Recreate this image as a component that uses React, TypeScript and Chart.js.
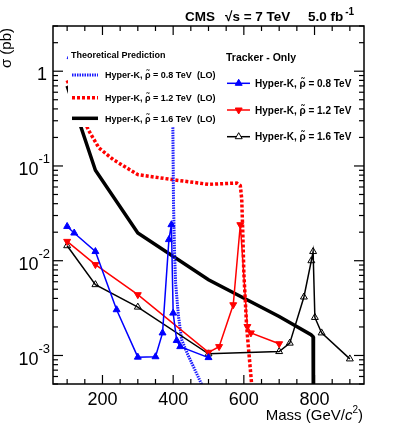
import React, { useEffect, useRef } from "react";
import { Chart, registerables } from "chart.js";

Chart.register(...registerables);

// ---------- data ----------
// Theoretical predictions (LO)
const theoryBlueMass = [100, 200, 300, 395, 399, 401, 404, 407, 415, 424, 440, 466, 480, 490];
const theoryBlueXsec = [1.4, 1.0, 0.8, 0.7, 0.3, 0.04, 0.012, 0.0058, 0.0026, 0.00147, 0.00105, 0.00065, 0.0005, 0.0004];

const theoryRedMass = [100, 160, 190, 230, 300, 400, 500, 580, 590, 594, 597, 600, 608, 622, 630];
const theoryRedXsec = [0.8, 0.24, 0.155, 0.117, 0.081, 0.0716, 0.064, 0.066, 0.062, 0.045, 0.02, 0.0074, 0.002, 0.0005, 0.0002];

const theoryBlackMass = [100, 180, 300, 500, 700, 790, 796, 797];
const theoryBlackXsec = [0.7, 0.09, 0.0196, 0.0063, 0.00258, 0.00166, 0.00158, 0.0001];

// Tracker-only limits
const trkBlueMass = [100, 120, 180, 240, 300, 350, 370, 388, 395, 400, 410, 420, 500];
const trkBlueXsec = [0.023, 0.0196, 0.0125, 0.00304, 0.00096, 0.00097, 0.00173, 0.0167, 0.024, 0.0028, 0.00144, 0.00124, 0.00095];

const trkRedMass = [100, 180, 300, 500, 530, 570, 590, 610, 620, 700];
const trkRedXsec = [0.016, 0.0091, 0.00438, 0.00108, 0.00124, 0.00343, 0.024, 0.00202, 0.00173, 0.00133];

const trkBlackMass = [100, 180, 300, 500, 700, 730, 770, 791, 796, 801, 820, 900];
const trkBlackXsec = [0.0144, 0.00559, 0.00324, 0.00104, 0.0011, 0.00135, 0.00414, 0.01, 0.0125, 0.00252, 0.00173, 0.00092];

// ---------- text / ticks ----------
const xTickLabels = [200, 400, 600, 800];
const yDecadeExponents = [0, -1, -2, -3];
const headerCMS = "CMS";
const headerEnergy = "√s = 7 TeV";
const headerLumi = "5.0 fb";
const headerLumiExp = "-1";
const xTitleParts = ["Mass (GeV/", "c", "2", ")"];
const yTitle = "σ (pb)";
const theoryLegendTitle = "Theoretical Prediction";
const theoryLegendLabels = ["Hyper-K, ρ̃ = 0.8 TeV", "Hyper-K, ρ̃ = 1.2 TeV", "Hyper-K, ρ̃ = 1.6 TeV"];
const theoryLegendSuffix = "(LO)";
const trackerLegendTitle = "Tracker - Only";
const trackerLegendLabels = ["Hyper-K, ρ̃ = 0.8 TeV", "Hyper-K, ρ̃ = 1.2 TeV", "Hyper-K, ρ̃ = 1.6 TeV"];

// ---------- styles ----------
const BLUE = "#0000ff";
const RED = "#ff0000";
const BLACK = "#000000";
const FONT = '"Liberation Sans", Arial, Helvetica, sans-serif';

const toPoints = (m: number[], v: number[]) => m.map((x, i) => ({ x, y: v[i] }));

const theoryStyles = [
  { color: "#1a1aff", width: 3, dash: [1.5, 1] },
  { color: RED, width: 3.5, dash: [3, 2] },
  { color: BLACK, width: 3.5, dash: [] as number[] },
];
const trackerStyles = [
  { color: BLUE, fill: BLUE, rotation: 0 },
  { color: RED, fill: RED, rotation: 180 },
  { color: BLACK, fill: "rgba(255,255,255,0)", rotation: 0 },
];

function drawTriangle(ctx: CanvasRenderingContext2D, x: number, y: number, r: number, rotationDeg: number, fill: string, stroke: string) {
  let rad = (rotationDeg * Math.PI) / 180;
  ctx.beginPath();
  ctx.moveTo(x + Math.sin(rad) * r, y - Math.cos(rad) * r);
  rad += (2 * Math.PI) / 3;
  ctx.lineTo(x + Math.sin(rad) * r, y - Math.cos(rad) * r);
  rad += (2 * Math.PI) / 3;
  ctx.lineTo(x + Math.sin(rad) * r, y - Math.cos(rad) * r);
  ctx.closePath();
  ctx.fillStyle = fill;
  ctx.fill();
  ctx.strokeStyle = stroke;
  ctx.lineWidth = 1;
  ctx.setLineDash([]);
  ctx.stroke();
}

const rootStylePlugin = {
  id: "rootStyle",
  afterDatasetsDraw(chart: any) {
    const { ctx, chartArea: a } = chart;
    const xs = chart.scales.x;
    const ys = chart.scales.y;
    ctx.save();

    // legend background (white, no border)
    ctx.fillStyle = "#ffffff";
    ctx.fillRect(68, 38, 156, 89);

    // frame
    ctx.setLineDash([]);
    ctx.strokeStyle = BLACK;
    ctx.lineWidth = 1.5;
    ctx.strokeRect(a.left, a.top, a.right - a.left, a.bottom - a.top);

    const seg = (x1: number, y1: number, x2: number, y2: number) => {
      ctx.beginPath();
      ctx.moveTo(x1, y1);
      ctx.lineTo(x2, y2);
      ctx.stroke();
    };

    // x ticks (inward, bottom and top)
    ctx.lineWidth = 1.2;
    for (let m = 100; m <= 900; m += 50) {
      const px = xs.getPixelForValue(m);
      const len = m % 200 === 0 ? 9 : 5;
      seg(px, a.bottom, px, a.bottom - len);
      seg(px, a.top, px, a.top + len);
    }
    // y ticks (inward, left and right)
    for (let e = -4; e <= 0; e++) {
      for (let k = 1; k <= 9; k++) {
        const v = k * Math.pow(10, e);
        if (v < ys.min * 0.999 || v > ys.max * 1.001) continue;
        const py = ys.getPixelForValue(v);
        const len = k === 1 ? 10 : 5;
        seg(a.left, py, a.left + len, py);
        seg(a.right, py, a.right - len, py);
      }
    }

    // x tick labels
    ctx.fillStyle = BLACK;
    ctx.font = `18px ${FONT}`;
    ctx.textAlign = "center";
    ctx.textBaseline = "alphabetic";
    xTickLabels.forEach((m) => {
      ctx.fillText(String(m), xs.getPixelForValue(m), 404.5);
    });

    // y tick labels
    yDecadeExponents.forEach((e) => {
      const py = ys.getPixelForValue(Math.pow(10, e));
      if (e === 0) {
        ctx.font = `18px ${FONT}`;
        ctx.textAlign = "right";
        ctx.fillText("1", 47, py + 8.5);
      } else {
        ctx.font = `13px ${FONT}`;
        ctx.textAlign = "right";
        const expStr = String(e);
        ctx.fillText(expStr, 50, py - 2.5);
        const w = ctx.measureText(expStr).width;
        ctx.font = `18px ${FONT}`;
        ctx.fillText("10", 50 - w, py + 9.5);
      }
    });

    // x title
    const parts = [
      { t: xTitleParts[0], f: `15px ${FONT}`, dy: 0 },
      { t: xTitleParts[1], f: `italic 15px ${FONT}`, dy: 0 },
      { t: xTitleParts[2], f: `10px ${FONT}`, dy: -6.5 },
      { t: xTitleParts[3], f: `15px ${FONT}`, dy: 0 },
    ];
    let total = 0;
    parts.forEach((p) => {
      ctx.font = p.f;
      total += ctx.measureText(p.t).width;
    });
    let cx = 363 - total;
    ctx.textAlign = "left";
    parts.forEach((p) => {
      ctx.font = p.f;
      ctx.fillText(p.t, cx, 419.5 + p.dy);
      cx += ctx.measureText(p.t).width;
    });

    // y title (rotated, aligned at top)
    ctx.save();
    ctx.translate(11, 28);
    ctx.rotate(-Math.PI / 2);
    ctx.font = `15px ${FONT}`;
    ctx.textAlign = "right";
    ctx.fillText(yTitle, 0, 0);
    ctx.restore();

    // header
    ctx.textAlign = "left";
    ctx.font = `bold 13.5px ${FONT}`;
    ctx.fillText(headerCMS, 185, 20.5);
    ctx.fillText(headerEnergy, 225, 20.5);
    ctx.fillText(headerLumi, 308, 20.5);
    const lw = ctx.measureText(headerLumi).width;
    ctx.font = `bold 10px ${FONT}`;
    ctx.fillText(headerLumiExp, 308 + lw + 2, 14.5);

    // theory legend
    ctx.font = `bold 9px ${FONT}`;
    ctx.fillText(theoryLegendTitle, 71, 58.3);
    const theoryRows = [75, 97.7, 118.3];
    theoryRows.forEach((yy, i) => {
      const s = theoryStyles[i];
      ctx.strokeStyle = s.color;
      ctx.lineWidth = s.width;
      ctx.setLineDash(s.dash);
      seg(72, yy, 98, yy);
      ctx.setLineDash([]);
      ctx.fillStyle = BLACK;
      ctx.font = `bold 9px ${FONT}`;
      ctx.fillText(theoryLegendLabels[i], 105, yy + 3.3);
      ctx.fillText(theoryLegendSuffix, 197, yy + 3.3);
    });

    // tracker legend
    ctx.fillStyle = BLACK;
    ctx.font = `bold 10.5px ${FONT}`;
    ctx.fillText(trackerLegendTitle, 226, 60.5);
    const trkRows = [83.3, 110, 136.7];
    trkRows.forEach((yy, i) => {
      const s = trackerStyles[i];
      ctx.strokeStyle = s.color;
      ctx.lineWidth = 1.5;
      ctx.setLineDash([]);
      seg(227, yy, 250, yy);
      drawTriangle(ctx, 238.7, yy, 4, s.rotation, s.fill === "rgba(255,255,255,0)" ? "#ffffff" : s.fill, s.color);
      ctx.fillStyle = BLACK;
      ctx.font = `bold 10px ${FONT}`;
      ctx.fillText(trackerLegendLabels[i], 255, yy + 3.6);
    });

    ctx.restore();
  },
};

export default function App() {
  const canvasRef = useRef<HTMLCanvasElement | null>(null);

  useEffect(() => {
    const canvas = canvasRef.current;
    if (!canvas) return;

    const theorySets = [
      [theoryBlueMass, theoryBlueXsec],
      [theoryRedMass, theoryRedXsec],
      [theoryBlackMass, theoryBlackXsec],
    ].map(([m, v], i) => ({
      label: `theory-${i}`,
      data: toPoints(m, v),
      borderColor: theoryStyles[i].color,
      borderWidth: theoryStyles[i].width,
      borderDash: theoryStyles[i].dash,
      pointRadius: 0,
      fill: false,
      tension: 0,
      clip: 0,
    }));

    const trackerSets = [
      [trkBlueMass, trkBlueXsec],
      [trkRedMass, trkRedXsec],
      [trkBlackMass, trkBlackXsec],
    ].map(([m, v], i) => ({
      label: `tracker-${i}`,
      data: toPoints(m, v),
      borderColor: trackerStyles[i].color,
      borderWidth: 1.5,
      pointStyle: "triangle",
      pointRotation: trackerStyles[i].rotation,
      pointRadius: 4,
      pointBorderWidth: 1,
      pointBackgroundColor: trackerStyles[i].fill,
      pointBorderColor: trackerStyles[i].color,
      fill: false,
      tension: 0,
      clip: 0,
    }));

    const chart = new Chart(canvas, {
      type: "line",
      data: { datasets: [...trackerSets, ...theorySets] as any },
      options: {
        responsive: false,
        animation: false,
        devicePixelRatio: 1,
        events: [],
        layout: { padding: { top: 26, right: 35, left: 0, bottom: 0 } },
        plugins: { legend: { display: false }, tooltip: { enabled: false }, title: { display: false } },
        scales: {
          x: {
            type: "linear",
            min: 60,
            max: 940,
            grid: { display: false },
            border: { display: false },
            ticks: { display: false },
            afterFit: (s: any) => {
              s.height = 43;
            },
          },
          y: {
            type: "logarithmic",
            min: 0.0005,
            max: 3,
            grid: { display: false },
            border: { display: false },
            ticks: { display: false },
            afterFit: (s: any) => {
              s.width = 53;
            },
          },
        },
      } as any,
      plugins: [rootStylePlugin],
    });

    return () => chart.destroy();
  }, []);

  return (
    <div style={{ position: "fixed", left: 0, top: 0, width: 399, height: 427, background: "#ffffff" }}>
      <canvas ref={canvasRef} width={399} height={427} style={{ display: "block" }} />
    </div>
  );
}
